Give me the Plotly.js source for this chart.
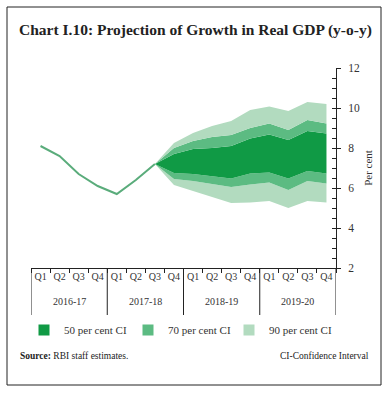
<!DOCTYPE html>
<html>
<head>
<meta charset="utf-8">
<script src="https://cdn.plot.ly/plotly-3.0.1.min.js"></script>
<style>
html,body{margin:0;padding:0;background:#fff;}
#chart{width:390px;height:393px;}
</style>
</head>
<body>
<div id="chart"></div>
<script>
// ---- data ----
const years = ['2016-17', '2017-18', '2018-19', '2019-20'];
const quarters = ['Q1', 'Q2', 'Q3', 'Q4'];
const actualGrowth = [8.1, 7.6, 6.7, 6.1, 5.7, 6.4, 7.2];
const fanStartIndex = 6; // Q3 2017-18
const ci90Lower = [7.2, 6.15, 5.85, 5.55, 5.25, 5.28, 5.35, 5.0, 5.35, 5.28];
const ci70Lower = [7.2, 6.45, 6.35, 6.2, 6.05, 6.18, 6.28, 5.9, 6.35, 6.23];
const ci50Lower = [7.2, 6.75, 6.7, 6.6, 6.48, 6.73, 6.78, 6.48, 6.85, 6.73];
const ci50Upper = [7.2, 7.7, 7.95, 8.0, 8.1, 8.48, 8.68, 8.4, 8.85, 8.73];
const ci70Upper = [7.2, 8.0, 8.35, 8.55, 8.65, 9.0, 9.23, 8.9, 9.4, 9.23];
const ci90Upper = [7.2, 8.25, 8.75, 9.1, 9.35, 9.9, 10.07, 9.85, 10.3, 10.2];
const bandNames = ['50 per cent CI', '70 per cent CI', '90 per cent CI'];

// ---- build category positions ----
const tickText = [];
years.forEach(() => quarters.forEach(q => tickText.push(q)));
const idx = tickText.map((_, i) => i);
const lineX = idx.slice(0, actualGrowth.length);
const fanX = idx.slice(fanStartIndex);
const nQ = quarters.length;

const C50 = '#109a45', C70 = '#5cbb82', C90 = '#b2dbbf';
const LINE = '#5aac7b';
const FONT = 'Liberation Serif';

function band(y, fillMode, color) {
  return {type: 'scatter', mode: 'lines', x: fanX, y: y, line: {width: 0, color: color},
          fill: fillMode, fillcolor: color, showlegend: false, hoverinfo: 'skip'};
}

const traces = [
  {type: 'scatter', mode: 'lines', x: lineX, y: actualGrowth, line: {color: LINE, width: 2}, showlegend: false},
  band(ci90Lower, 'none', C90),
  band(ci70Lower, 'tonexty', C90),
  band(ci50Lower, 'tonexty', C70),
  band(ci50Upper, 'tonexty', C50),
  band(ci70Upper, 'tonexty', C70),
  band(ci90Upper, 'tonexty', C90),
];
const legendIds = ['legend', 'legend2', 'legend3'];
[C50, C70, C90].forEach((c, i) => traces.push({
  type: 'scatter', mode: 'markers', x: [null], y: [null], name: bandNames[i], legend: legendIds[i],
  marker: {symbol: 'square', size: 11, color: c}, showlegend: true
}));
traces.push({type: 'scatter', mode: 'markers', x: [null], y: [null], yaxis: 'y2', showlegend: false});

const L = 31, T = 68, W = 305, H = 200;
const px = v => (v - L) / W, py = v => (T + H - v) / H;

const shapes = [
  {type: 'rect', xref: 'paper', yref: 'paper', x0: px(7), x1: px(381), y0: py(385), y1: py(7),
   line: {color: '#222', width: 1}, fillcolor: 'rgba(0,0,0,0)', layer: 'above'}
];
for (let i = 0; i <= years.length; i++) {
  shapes.push({type: 'line', xref: 'x', yref: 'paper', x0: i * nQ - 0.5, x1: i * nQ - 0.5, y0: py(315), y1: 0,
               line: {color: '#222', width: 1}, layer: 'above'});
}
const annotations = years.map((y, i) => ({
  text: y, xref: 'x', yref: 'paper', x: i * nQ + (nQ - 1) / 2, y: py(301), xanchor: 'center', yanchor: 'middle',
  showarrow: false, font: {family: FONT, size: 10, color: '#333'}
}));
annotations.push(
  {text: '<b>Source:</b> RBI staff estimates.', xref: 'paper', yref: 'paper', x: px(18), y: py(356),
   xanchor: 'left', yanchor: 'middle', showarrow: false, font: {family: FONT, size: 9.5, color: '#222'}},
  {text: 'CI-Confidence Interval', xref: 'paper', yref: 'paper', x: px(371), y: py(356),
   xanchor: 'right', yanchor: 'middle', showarrow: false, font: {family: FONT, size: 9.5, color: '#222'}}
);

function legendAt(xPix) {
  return {orientation: 'h', x: px(xPix), xanchor: 'left', y: py(330), yanchor: 'middle',
          font: {family: FONT, size: 11, color: '#333'}, bgcolor: 'rgba(0,0,0,0)'};
}

const layout = {
  width: 390, height: 393,
  margin: {l: L, r: 390 - L - W, t: T, b: 393 - T - H, pad: 0},
  paper_bgcolor: '#fff', plot_bgcolor: '#fff',
  font: {family: FONT, color: '#333', size: 11},
  title: {text: '<b>Chart I.10: Projection of Growth in Real GDP (y-o-y)</b>',
          font: {family: FONT, size: 15.5, color: '#222'},
          x: 19 / 390, xanchor: 'left', xref: 'container', y: 1 - 30 / 393, yanchor: 'middle', yref: 'container'},
  xaxis: {range: [-0.5, tickText.length - 0.5], showline: true, linecolor: '#222', linewidth: 1,
          tickmode: 'array', tickvals: idx, ticktext: tickText, ticks: '', tickangle: 0,
          minor: {tickmode: 'linear', tick0: -0.5, dtick: 1, ticks: 'outside', ticklen: 4, tickcolor: '#222', showgrid: false},
          tickfont: {family: FONT, size: 10, color: '#333'}, ticklabelstandoff: -1,
          showgrid: false, zeroline: false, fixedrange: true},
  yaxis: {side: 'right', range: [2, 12], dtick: 2, showline: true, linecolor: '#222', linewidth: 1,
          ticks: 'inside', ticklen: 4, tickcolor: '#222',
          minor: {dtick: 0.5, ticks: 'inside', ticklen: 4, tickcolor: '#222', showgrid: false},
          showgrid: false, zeroline: false, ticklabelstandoff: 9,
          tickfont: {family: FONT, size: 11.5, color: '#333'},
          title: {text: 'Per cent', font: {family: FONT, size: 11, color: '#333'}, standoff: 5}},
  yaxis2: {overlaying: 'y', side: 'right', range: [2, 12], dtick: 2, showline: false, ticks: 'outside', ticklen: 4,
           tickcolor: '#222', showticklabels: false, showgrid: false, zeroline: false},
  showlegend: true,
  legend: legendAt(24),
  legend2: legendAt(128),
  legend3: legendAt(229),
  annotations: annotations,
  shapes: shapes
};

Plotly.newPlot('chart', traces, layout, {displayModeBar: false, staticPlot: true});
</script>
</body>
</html>
